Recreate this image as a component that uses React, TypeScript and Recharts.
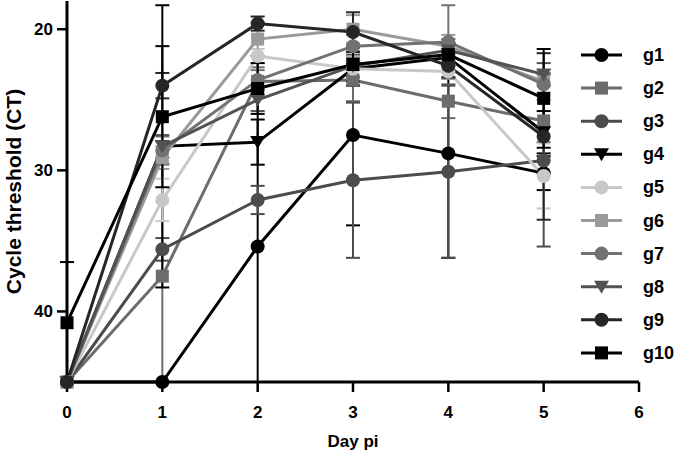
import React from "react";
import { LineChart, Line, XAxis, YAxis, ErrorBar, Legend, Label } from "recharts";

const days = [0, 1, 2, 3, 4, 5];
const xTicks = [0, 1, 2, 3, 4, 5, 6];
const yTicks = [20, 30, 40];
const yDomain = [18, 45];

const seriesNames = ["g1", "g2", "g3", "g4", "g5", "g6", "g7", "g8", "g9", "g10"];
const seriesColors = ["#000000", "#6c6c6c", "#4c4c4c", "#000000", "#c8c8c8", "#9a9a9a", "#727272", "#525252", "#262626", "#000000"];
const seriesShapes = ["circle", "square", "circle", "triangle", "circle", "square", "circle", "triangle", "circle", "square"];

const g1 = [45, 45, 35.4, 27.5, 28.8, 30.2];
const g2 = [45, 37.5, 23.7, 23.6, 25.1, 26.5];
const g3 = [45, 35.6, 32.1, 30.7, 30.1, 29.3];
const g4 = [45, 28.3, 28.0, 22.8, 22.0, 27.3];
const g5 = [45, 32.1, 21.9, 22.8, 23.0, 30.4];
const g6 = [45, 29.1, 20.7, 20.0, 21.2, 23.7];
const g7 = [45, 28.6, 23.6, 21.2, 20.9, 23.9];
const g8 = [45, 28.3, 25.0, 22.6, 21.5, 23.2];
const g9 = [45, 24.0, 19.6, 20.2, 22.6, 27.6];
const g10 = [40.8, 26.2, 24.2, 22.5, 21.8, 24.9];

const g1Err = [0, 0, 13.5, 6.4, 7.4, 1.2];
const g2Err = [0, 8, 1, 1.5, 1.2, 1.5];
const g3Err = [0, 0.8, 1, 5.5, 6.1, 6.1];
const g4Err = [0, 10, 1.6, 1.2, 1.0, 1.5];
const g5Err = [0, 1.5, 0.5, 0.6, 0.5, 2.3];
const g6Err = [0, 0.8, 1.2, 1.0, 0.8, 0.8];
const g7Err = [0, 1, 0.7, 0.8, 2.6, 0.8];
const g8Err = [0, 0.8, 0.8, 0.8, 0.8, 0.8];
const g9Err = [0, 0.9, 0.5, 1.4, 0.8, 5.9];
const g10Err = [4.3, 5.0, 1.8, 1.2, 0.8, 3.5];

const values = [g1, g2, g3, g4, g5, g6, g7, g8, g9, g10];
const errors = [g1Err, g2Err, g3Err, g4Err, g5Err, g6Err, g7Err, g8Err, g9Err, g10Err];

// error bars are cut at the axis bounds, as in the reference
const data = days.map((d, i) => {
  const row: any = { day: d };
  seriesNames.forEach((n, s) => {
    const v = values[s][i];
    const e = errors[s][i];
    row[n] = v;
    row[n + "e"] = [Math.min(e, v - yDomain[0]), Math.min(e, yDomain[1] - v)];
  });
  return row;
});

const FONT = "'Liberation Sans', Arial, sans-serif";

function Marker({ shape, color, cx, cy }: { shape: string; color: string; cx: number; cy: number }) {
  if (shape === "square") {
    return <rect x={cx - 6.5} y={cy - 6.5} width={13} height={13} fill={color} />;
  }
  if (shape === "triangle") {
    return <polygon points={`${cx - 7.5},${cy - 6} ${cx + 7.5},${cy - 6} ${cx},${cy + 7}`} fill={color} />;
  }
  return <circle cx={cx} cy={cy} r={7} fill={color} />;
}

const makeDot = (shape: string, color: string) => (props: any) => {
  const { cx, cy, index } = props;
  if (cx == null || cy == null) return <g key={index} />;
  return (
    <g key={index}>
      <Marker shape={shape} color={color} cx={cx} cy={cy} />
    </g>
  );
};

function LegendContent() {
  return (
    <svg width={120} height={350}>
      {seriesNames.map((n, i) => {
        const cy = 25 + i * 33.1;
        return (
          <g key={n}>
            <line x1={21} x2={62} y1={cy} y2={cy} stroke={seriesColors[i]} strokeWidth={3} />
            <Marker shape={seriesShapes[i]} color={seriesColors[i]} cx={41.5} cy={cy} />
            <text x={83} y={cy + 6} fontFamily={FONT} fontWeight="bold" fontSize={18} fill="#000">
              {n}
            </text>
          </g>
        );
      })}
    </svg>
  );
}

export default function App() {
  return (
    <div style={{ position: "absolute", left: 0, top: 0, width: 680, height: 456, background: "#fff" }}>
      <LineChart width={680} height={456} data={data} margin={{ top: 1, right: 41, bottom: 0, left: 0 }}>
        <XAxis
          dataKey="day"
          type="number"
          domain={[0, 6]}
          ticks={xTicks}
          height={74}
          axisLine={{ stroke: "#000", strokeWidth: 3 }}
          tickLine={{ stroke: "#000", strokeWidth: 2.5 }}
          tickSize={10}
          tickMargin={14}
          tick={{ fill: "#000", fontFamily: FONT, fontWeight: "bold", fontSize: 17 }}
        >
          <Label value="Day pi" position="insideBottom" offset={9} fill="#000" fontFamily={FONT} fontWeight="bold" fontSize={17} />
        </XAxis>
        <YAxis
          type="number"
          reversed
          domain={yDomain}
          ticks={yTicks}
          width={67}
          axisLine={{ stroke: "#000", strokeWidth: 3 }}
          tickLine={{ stroke: "#000", strokeWidth: 2.5 }}
          tickSize={10}
          tickMargin={4}
          tick={{ fill: "#000", fontFamily: FONT, fontWeight: "bold", fontSize: 17 }}
        >
          <Label
            value="Cycle threshold (CT)"
            angle={-90}
            position="insideLeft"
            offset={10}
            dx={4}
            fill="#000"
            fontFamily={FONT}
            fontWeight="bold"
            fontSize={21}
            style={{ textAnchor: "middle" }}
          />
        </YAxis>
        <Legend
          layout="horizontal"
          verticalAlign="middle"
          align="center"
          content={() => <LegendContent />}
          wrapperStyle={{ left: 560, top: 30, width: 120, height: 350 }}
        />
        {seriesNames.map((n, i) => (
          <Line
            key={n}
            dataKey={n}
            stroke={seriesColors[i]}
            strokeWidth={3}
            dot={makeDot(seriesShapes[i], seriesColors[i])}
            activeDot={false}
            isAnimationActive={false}
            type="linear"
          >
            <ErrorBar dataKey={n + "e"} width={7} strokeWidth={2} stroke={seriesColors[i]} direction="y" />
          </Line>
        ))}
      </LineChart>
    </div>
  );
}
